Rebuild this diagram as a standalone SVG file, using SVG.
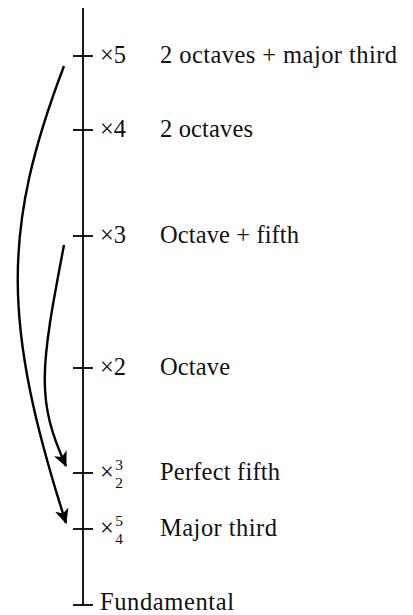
<svg xmlns="http://www.w3.org/2000/svg" width="413" height="615" viewBox="0 0 413 615">
<style>
.ax{stroke:#000;stroke-width:1.8;fill:none}
.lbl{font-family:'Liberation Serif',serif;font-size:24.5px;fill:#111}
.frac{font-family:'Liberation Serif',serif;font-size:15.5px;fill:#111}
.arr{stroke:#000;stroke-width:2.4;fill:none;marker-end:url(#ah)}
</style>
<defs>
<marker id="ah" markerUnits="userSpaceOnUse" markerWidth="16" markerHeight="14" viewBox="0 0 16 14" refX="14" refY="7" orient="auto">
<path d="M0,0 L15,7 L0,14 L4,7 Z" fill="#000"/>
</marker>
</defs>
<g id="axis">
<line class="ax" x1="83" y1="8" x2="83" y2="605"/>
</g>
<g id="n5">
<line class="ax" x1="73" y1="56" x2="93" y2="56"/>
<text class="lbl" x="100" y="63">×5</text>
<text class="lbl" x="160" y="63" textLength="237" lengthAdjust="spacing">2 octaves + major third</text>
</g>
<g id="n4">
<line class="ax" x1="73" y1="130" x2="93" y2="130"/>
<text class="lbl" x="100" y="137">×4</text>
<text class="lbl" x="160" y="137" textLength="93" lengthAdjust="spacing">2 octaves</text>
</g>
<g id="n3">
<line class="ax" x1="73" y1="236" x2="93" y2="236"/>
<text class="lbl" x="100" y="243">×3</text>
<text class="lbl" x="160" y="243" textLength="139" lengthAdjust="spacing">Octave + fifth</text>
</g>
<g id="n2">
<line class="ax" x1="73" y1="368" x2="93" y2="368"/>
<text class="lbl" x="100" y="375">×2</text>
<text class="lbl" x="160" y="375" textLength="70" lengthAdjust="spacing">Octave</text>
</g>
<g id="n32">
<line class="ax" x1="73" y1="473" x2="93" y2="473"/>
<text class="lbl" x="100" y="480">×</text>
<text class="frac" x="119" y="470" text-anchor="middle">3</text>
<text class="frac" x="119" y="488" text-anchor="middle">2</text>
<text class="lbl" x="160" y="480" textLength="120" lengthAdjust="spacing">Perfect fifth</text>
</g>
<g id="n54">
<line class="ax" x1="73" y1="529" x2="93" y2="529"/>
<text class="lbl" x="100" y="536">×</text>
<text class="frac" x="119" y="526" text-anchor="middle">5</text>
<text class="frac" x="119" y="544" text-anchor="middle">4</text>
<text class="lbl" x="160" y="536" textLength="117" lengthAdjust="spacing">Major third</text>
</g>
<g id="n1">
<line class="ax" x1="73" y1="605" x2="93" y2="605"/>
<text class="lbl" x="100" y="610" textLength="134" lengthAdjust="spacing">Fundamental</text>
</g>
<g id="connectors">
<path class="arr" d="M64,66 C2,229 2,323 66,523"/>
<path class="arr" d="M64,245 C40,370 36,400 66,466"/>
</g>
</svg>
